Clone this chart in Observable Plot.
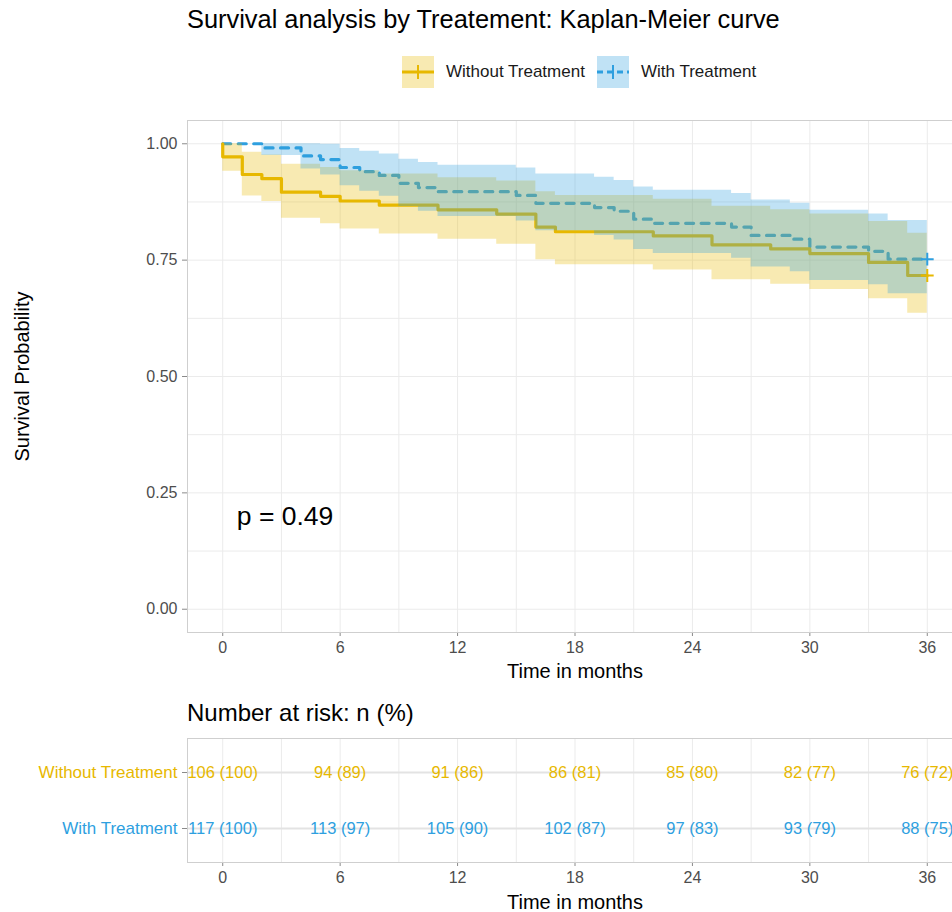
<!DOCTYPE html>
<html>
<head>
<meta charset="utf-8">
<script src="https://cdn.jsdelivr.net/npm/d3@7"></script>
<script src="https://cdn.jsdelivr.net/npm/@observablehq/plot@0.6"></script>
<style>
  body { margin: 0; background: #fff; }
  #wrap { position: relative; width: 952px; height: 912px; overflow: hidden; background: #fff;
          font-family: "Liberation Sans", Arial, sans-serif; }
  .abs { position: absolute; white-space: nowrap; }
</style>
</head>
<body>
<div id="wrap">
  <div class="abs" id="title" style="left:187px;top:7px;font-size:25.4px;line-height:25px;color:#000;">Survival analysis by Treatement: Kaplan-Meier curve</div>
  <div class="abs" id="legend" style="left:0;top:0;"></div>
  <div class="abs" id="main" style="left:0;top:100px;width:980px;"></div>
  <div class="abs" id="risktitle" style="left:187px;top:701px;font-size:24px;line-height:24px;color:#000;">Number at risk: n (%)</div>
  <div class="abs" id="risk" style="left:0;top:730px;width:980px;"></div>
</div>
<script>
// ---------------- data ----------------
const groups = ["Without Treatment", "With Treatment"];
const colors = ["#E7B800", "#2E9FDF"];

// Without Treatment: Kaplan-Meier steps (time in months, survival, 95% CI)
const timeWithout  = [0, 0, 1, 2, 3, 5, 6, 8, 11, 14, 16, 17, 22, 25, 28, 30, 33, 35, 36];
const survWithout  = [1, 0.972, 0.934, 0.925, 0.896, 0.887, 0.877, 0.868, 0.858, 0.849, 0.821, 0.811, 0.802, 0.783, 0.774, 0.764, 0.745, 0.717, 0.717];
const lowerWithout = [1, 0.941, 0.888, 0.876, 0.840, 0.828, 0.817, 0.806, 0.795, 0.784, 0.751, 0.740, 0.729, 0.708, 0.698, 0.687, 0.667, 0.636, 0.636];
const upperWithout = [1, 1, 0.982, 0.976, 0.956, 0.949, 0.942, 0.935, 0.927, 0.920, 0.897, 0.889, 0.881, 0.866, 0.858, 0.849, 0.833, 0.808, 0.808];

// With Treatment
const timeWith  = [0, 2, 4, 5, 6, 7, 8, 9, 10, 11, 15, 16, 19, 20, 21, 22, 26, 27, 29, 30, 33, 34, 36];
const survWith  = [1, 0.991, 0.974, 0.966, 0.949, 0.940, 0.932, 0.915, 0.906, 0.897, 0.889, 0.872, 0.863, 0.855, 0.838, 0.829, 0.821, 0.803, 0.795, 0.778, 0.769, 0.752, 0.752];
const lowerWith = [1, 0.975, 0.946, 0.933, 0.910, 0.898, 0.887, 0.865, 0.855, 0.844, 0.834, 0.813, 0.803, 0.793, 0.773, 0.764, 0.754, 0.735, 0.725, 0.706, 0.697, 0.678, 0.678];
const upperWith = [1, 1, 1, 0.999, 0.990, 0.984, 0.978, 0.967, 0.960, 0.954, 0.948, 0.935, 0.928, 0.921, 0.907, 0.900, 0.893, 0.879, 0.872, 0.857, 0.849, 0.835, 0.835];

// Number at risk table
const riskTimes = [0, 6, 12, 18, 24, 30, 36];
const riskNWithout   = [106, 94, 91, 86, 85, 82, 76];
const riskPctWithout = [100, 89, 86, 81, 80, 77, 72];
const riskNWith      = [117, 113, 105, 102, 97, 93, 88];
const riskPctWith    = [100, 97, 90, 87, 83, 79, 75];

const xTicks = [0, 6, 12, 18, 24, 30, 36];
const yTicks = [0, 0.25, 0.5, 0.75, 1];
const pLabel = "p = 0.49";
const xLabel = "Time in months";
const yLabel = "Survival Probability";

// ---------------- build ----------------
const FONT = '"Liberation Sans", Arial, sans-serif';
const GRID = "#EBEBEB";
const BORDER = "#CFCFCF";
const TICK = "#8A8A8A";
const TXT = "#4D4D4D";
const xDomain = [-1.8, 37.8];
const gridXVals = d3.range(0, 37, 3);
const gridYVals = d3.range(0, 1.0001, 0.125);

const curveWithout = timeWithout.map((t, i) => ({t, s: survWithout[i], lo: lowerWithout[i], hi: upperWithout[i]}));
const curveWith = timeWith.map((t, i) => ({t, s: survWith[i], lo: lowerWith[i], hi: upperWith[i]}));
const ends = [
  {t: timeWithout[timeWithout.length - 1], s: survWithout[survWithout.length - 1], c: colors[0]},
  {t: timeWith[timeWith.length - 1], s: survWith[survWith.length - 1], c: colors[1]}
];

const main = Plot.plot({
  width: 980, height: 592,
  marginLeft: 187, marginRight: 18, marginTop: 20, marginBottom: 60,
  x: {domain: xDomain},
  y: {domain: [-0.05, 1.05]},
  style: {fontFamily: FONT, fontSize: "16px", color: TXT, background: "transparent", overflow: "visible", maxWidth: "none"},
  marks: [
    Plot.gridX(gridXVals, {stroke: GRID, strokeOpacity: 1, strokeWidth: 1}),
    Plot.gridY(gridYVals, {stroke: GRID, strokeOpacity: 1, strokeWidth: 1}),
    Plot.axisX(xTicks, {tickSize: 4, tickPadding: 5, stroke: TICK, fill: TXT, label: null, fontSize: 16}),
    Plot.axisY(yTicks, {tickSize: 5, tickPadding: 5, stroke: TICK, fill: TXT, label: null, fontSize: 16, tickFormat: d3.format(".2f")}),
    Plot.line(curveWith, {x: "t", y: "s", curve: "step-after", stroke: colors[1], strokeWidth: 3.2, strokeDasharray: "8,7.5"}),
    Plot.line(curveWithout, {x: "t", y: "s", curve: "step-after", stroke: colors[0], strokeWidth: 3.2}),
    Plot.areaY(curveWithout, {x: "t", y1: "lo", y2: "hi", curve: "step-after", fill: colors[0], fillOpacity: 0.3}),
    Plot.areaY(curveWith, {x: "t", y1: "lo", y2: "hi", curve: "step-after", fill: colors[1], fillOpacity: 0.3}),
    Plot.dot(ends, {x: "t", y: "s", symbol: "plus", r: 4.2, stroke: "c", strokeWidth: 2}),
    Plot.frame({stroke: BORDER, strokeWidth: 1}),
    Plot.text([pLabel], {x: 0.72, y: 0.2, text: d => d, textAnchor: "start", fontSize: 26.5, fill: "#000"}),
    Plot.text([xLabel], {frameAnchor: "bottom", dy: 39, text: d => d, textAnchor: "middle", lineAnchor: "middle", fontSize: 20, fill: "#000"}),
    Plot.text([yLabel], {frameAnchor: "left", dx: -165, rotate: -90, text: d => d, textAnchor: "middle", lineAnchor: "middle", fontSize: 20, fill: "#000"})
  ]
});
document.getElementById("main").appendChild(main);

const riskWithout = riskTimes.map((t, i) => ({t, g: groups[0], label: `${riskNWithout[i]} (${riskPctWithout[i]})`}));
const riskWith = riskTimes.map((t, i) => ({t, g: groups[1], label: `${riskNWith[i]} (${riskPctWith[i]})`}));

const risk = Plot.plot({
  width: 980, height: 182,
  marginLeft: 187, marginRight: 18, marginTop: 8, marginBottom: 50,
  x: {domain: xDomain},
  y: {type: "point", domain: groups, padding: 0.59},
  style: {fontFamily: FONT, fontSize: "16px", color: TXT, background: "transparent", overflow: "visible", maxWidth: "none"},
  marks: [
    Plot.gridX(gridXVals, {stroke: GRID, strokeOpacity: 1, strokeWidth: 1}),
    Plot.gridY(groups, {stroke: "#E3E3E3", strokeOpacity: 1, strokeWidth: 2}),
    Plot.axisX(xTicks, {tickSize: 4, tickPadding: 5, stroke: TICK, fill: TXT, label: null, fontSize: 16}),
    Plot.axisY(groups, {tickSize: 5, stroke: TICK, label: null, tickFormat: () => ""}),
    Plot.frame({stroke: BORDER, strokeWidth: 1}),
    Plot.text([groups[0]], {y: d => d, text: d => d, frameAnchor: "left", dx: -10, textAnchor: "end", fill: colors[0], fontSize: 17}),
    Plot.text([groups[1]], {y: d => d, text: d => d, frameAnchor: "left", dx: -10, textAnchor: "end", fill: colors[1], fontSize: 17}),
    Plot.text(riskWithout, {x: "t", y: "g", text: "label", fill: colors[0], fontSize: 16.5}),
    Plot.text(riskWith, {x: "t", y: "g", text: "label", fill: colors[1], fontSize: 16.5}),
    Plot.text([xLabel], {frameAnchor: "bottom", dy: 40, text: d => d, textAnchor: "middle", lineAnchor: "middle", fontSize: 20, fill: "#000"})
  ]
});
document.getElementById("risk").appendChild(risk);

// ---------------- legend ----------------
function key(color, dashed) {
  const dash = dashed ? ' stroke-dasharray="6,4"' : '';
  return `<svg width="32" height="32" style="vertical-align:middle">
    <rect x="0" y="0" width="32" height="32" fill="${color}" fill-opacity="0.3"/>
    <line x1="0" x2="32" y1="16" y2="16" stroke="${color}" stroke-width="3"${dash}/>
    <line x1="16" x2="16" y1="9" y2="23" stroke="${color}" stroke-width="2"/>
  </svg>`;
}
const leg = document.getElementById("legend");
const items = [
  {x: 402, label: groups[0], color: colors[0], dashed: false},
  {x: 597, label: groups[1], color: colors[1], dashed: true}
];
items.forEach(it => {
  const k = document.createElement("div");
  k.className = "abs";
  k.style.left = it.x + "px"; k.style.top = "56px";
  k.innerHTML = key(it.color, it.dashed);
  leg.appendChild(k);
  const t = document.createElement("div");
  t.className = "abs";
  t.style.left = (it.x + 44) + "px"; t.style.top = "62px";
  t.style.fontSize = "17px"; t.style.lineHeight = "20px"; t.style.color = "#1a1a1a";
  t.textContent = it.label;
  leg.appendChild(t);
});
</script>
</body>
</html>
